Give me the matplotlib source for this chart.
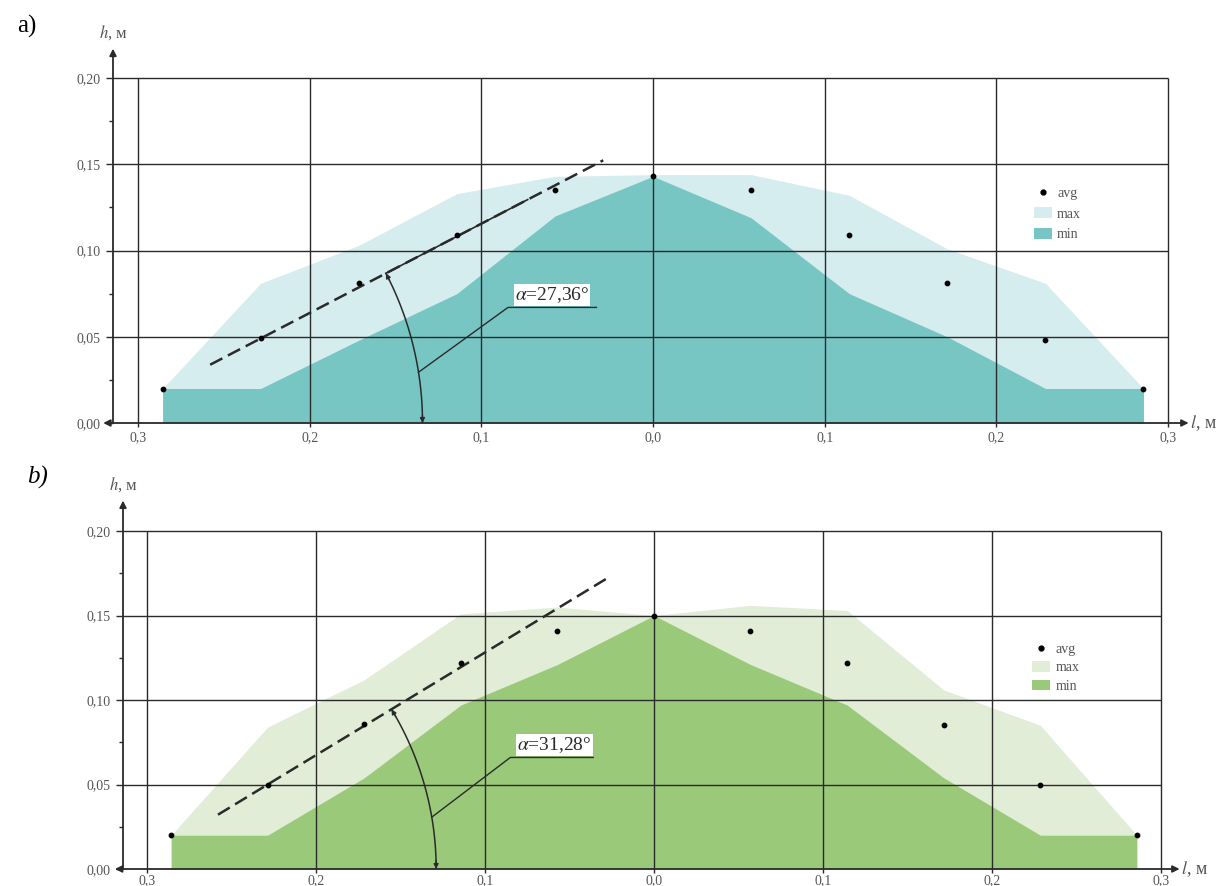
import numpy as np
import matplotlib
matplotlib.use("Agg")
import matplotlib.pyplot as plt  # noqa: E402
from matplotlib.lines import Line2D  # noqa: E402
from matplotlib.patches import Patch  # noqa: E402

plt.rcParams["font.family"] = ["Liberation Serif", "DejaVu Serif"]
plt.rcParams["mathtext.fontset"] = "stix"

# Measurement stations along the profile, m (negative = left of the axis).
L_POS = [-0.2857, -0.2286, -0.1714, -0.1143, -0.0571, 0.0,
         0.0571, 0.1143, 0.1714, 0.2286, 0.2857]

GRID_L = [-0.3, -0.2, -0.1, 0.0, 0.1, 0.2, 0.3]
L_TICK_LABELS = ["0,3", "0,2", "0,1", "0,0", "0,1", "0,2", "0,3"]
H_TICKS = [0.00, 0.05, 0.10, 0.15, 0.20]
H_TICK_LABELS = ["0,00", "0,05", "0,10", "0,15", "0,20"]
H_MINOR = [0.025, 0.075, 0.125, 0.175]

# a) heap heights, m
AVG_A = [0.020, 0.049, 0.081, 0.109, 0.135, 0.143, 0.135, 0.109, 0.081, 0.048, 0.020]
MAX_A = [0.020, 0.081, 0.103, 0.133, 0.143, 0.144, 0.144, 0.132, 0.101, 0.081, 0.020]
MIN_A = [0.020, 0.020, 0.048, 0.075, 0.120, 0.143, 0.119, 0.075, 0.050, 0.020, 0.020]
ALPHA_A = 27.36

# b) heap heights, m
AVG_B = [0.020, 0.050, 0.086, 0.122, 0.141, 0.150, 0.141, 0.122, 0.085, 0.050, 0.020]
MAX_B = [0.020, 0.084, 0.112, 0.151, 0.155, 0.150, 0.156, 0.153, 0.106, 0.085, 0.020]
MIN_B = [0.020, 0.020, 0.054, 0.097, 0.121, 0.150, 0.121, 0.097, 0.054, 0.020, 0.020]
ALPHA_B = 31.28

W, H = 1224, 886
INK = "#2a2a2a"
TICK_C = "#555555"


def px_rect(left, right, top, bottom):
    return [left / W, 1 - bottom / H, (right - left) / W, (bottom - top) / H]


def draw_panel(fig, rect, xlim, avg, hmax, hmin, alpha, light, dark, tag, tag_style,
               x_arrow, y_top, anchor_idx, line_l, arc_r, lead_deg, knee,
               legend_at, legend_gap, xpad=3, solid_to=None):
    ax = fig.add_axes(rect)
    ax.set_xlim(*xlim)
    ax.set_ylim(0, 0.2)
    for s in ax.spines.values():
        s.set_visible(False)

    ax.fill_between(L_POS, 0, hmax, color=light, lw=0, zorder=1)
    ax.fill_between(L_POS, 0, hmin, color=dark, lw=0, zorder=2)

    # grid
    ax.vlines(GRID_L, 0, 0.2, color=INK, lw=1.0, zorder=3, clip_on=False)
    ax.hlines(H_TICKS[1:], xlim[0], 0.3, color=INK, lw=1.0, zorder=3, clip_on=False)

    # axes with arrows
    ax.annotate("", xy=(x_arrow[1], 0), xytext=(x_arrow[0], 0),
                arrowprops=dict(arrowstyle="<|-|>", color=INK, lw=1.3,
                                mutation_scale=10, shrinkA=0, shrinkB=0),
                annotation_clip=False, zorder=4)
    ax.annotate("", xy=(xlim[0], y_top), xytext=(xlim[0], 0),
                arrowprops=dict(arrowstyle="-|>", color=INK, lw=1.3,
                                mutation_scale=10, shrinkA=0, shrinkB=0),
                annotation_clip=False, zorder=4)
    ax.text(xlim[0], y_top + 0.004, "$h$, м", ha="center", va="bottom",
            fontsize=12, color=TICK_C)
    ax.text(x_arrow[1] + 0.001, 0, "$l$, м", ha="left", va="center",
            fontsize=13, color=TICK_C)

    ax.set_xticks(GRID_L)
    ax.set_xticklabels(L_TICK_LABELS)
    ax.set_yticks(H_TICKS)
    ax.set_yticklabels(H_TICK_LABELS)
    ax.set_yticks(H_MINOR, minor=True)
    ax.tick_params(axis="x", length=3, width=1, color=INK, pad=xpad,
                   labelsize=10, labelcolor=TICK_C)
    ax.tick_params(axis="y", which="major", length=5, width=1, color=INK, pad=4,
                   labelsize=10, labelcolor=TICK_C)
    ax.tick_params(axis="y", which="minor", length=3, width=1, color=INK)

    # average points
    ax.scatter(L_POS, avg, s=10, color="black", zorder=6, clip_on=False)

    # slope line through the average point
    t = np.tan(np.radians(alpha))
    l0, h0 = L_POS[anchor_idx], avg[anchor_idx]
    ll = np.array(line_l)
    ax.plot(ll, h0 + t * (ll - l0), color=INK, lw=1.8, ls=(0, (5.5, 2.5)), zorder=5)

    # angle arc centred where the slope line meets h = 0
    lc = l0 - h0 / t
    p0 = ax.transData.transform((0, 0))
    sx = ax.transData.transform((1, 0))[0] - p0[0]
    sy = ax.transData.transform((0, 1))[1] - p0[1]
    th_end = np.arctan2(t * sy, sx)
    th = np.linspace(0, th_end, 80)
    arc_l = lc + arc_r * np.cos(th)
    arc_h = arc_r * np.sin(th) * sx / sy
    ax.plot(arc_l, arc_h, color=INK, lw=1.1, zorder=5)
    for i0, i1 in ((4, 0), (-5, -1)):
        ax.annotate("", xy=(arc_l[i1], arc_h[i1]), xytext=(arc_l[i0], arc_h[i0]),
                    arrowprops=dict(arrowstyle="-|>", color=INK, lw=1.0,
                                    mutation_scale=7, shrinkA=0, shrinkB=0),
                    zorder=5)
    if solid_to is not None:
        ls_ = np.array([arc_l[-1], solid_to])
        ax.plot(ls_, h0 + t * (ls_ - l0), color=INK, lw=1.2, zorder=5)

    # leader with value label
    ld = np.radians(lead_deg)
    lead_l = lc + arc_r * np.cos(ld)
    lead_h = arc_r * np.sin(ld) * sx / sy
    ax.plot([lead_l, knee[0], knee[2]], [lead_h, knee[1], knee[1]],
            color=INK, lw=1.0, zorder=5)
    val = f"{alpha:.2f}".replace(".", ",")
    ax.text(knee[0] + 0.004, knee[1] + 0.0015, f"$\\alpha$={val}°", ha="left", va="bottom",
            fontsize=14, color=INK, zorder=7,
            bbox=dict(facecolor="white", edgecolor="none", pad=0.8))

    handles = [Line2D([], [], ls="none", marker="o", ms=3.5, color="black"),
               Patch(facecolor=light, edgecolor="none"),
               Patch(facecolor=dark, edgecolor="none")]
    ax.legend(handles, ["avg", "max", "min"], loc="upper left",
              bbox_to_anchor=legend_at, frameon=False, fontsize=10,
              labelcolor=TICK_C, handlelength=1.3, handleheight=0.8,
              handletextpad=0.4, labelspacing=legend_gap, borderpad=0)

    fig.text(tag[0] / W, 1 - tag[1] / H, tag_style[0], fontsize=18,
             style=tag_style[1], ha="left", va="center")
    return ax


fig = plt.figure(figsize=(W / 100, H / 100), dpi=100)
fig.patch.set_facecolor("white")

draw_panel(fig, px_rect(113, 1168, 78, 423), (-0.3146, 0.3),
           AVG_A, MAX_A, MIN_A, ALPHA_A, "#d6edef", "#78c6c4",
           (17, 26), ("a)", "normal"), (-0.3203, 0.312), 0.217, 1,
           (-0.258, -0.029), 0.189, 9.0, (-0.0845, 0.067, -0.033),
           (0.866, 0.705), 0.55, solid_to=-0.073)

draw_panel(fig, px_rect(123, 1161, 531, 869), (-0.3142, 0.3),
           AVG_B, MAX_B, MIN_B, ALPHA_B, "#e1edd6", "#9bc97a",
           (27, 477), ("b)", "italic"), (-0.319, 0.311), 0.218, 1,
           (-0.258, -0.028), 0.182, 9.7, (-0.085, 0.066, -0.036),
           (0.869, 0.69), 0.38, xpad=1)

fig.savefig("out.png", dpi=100, facecolor="white")
